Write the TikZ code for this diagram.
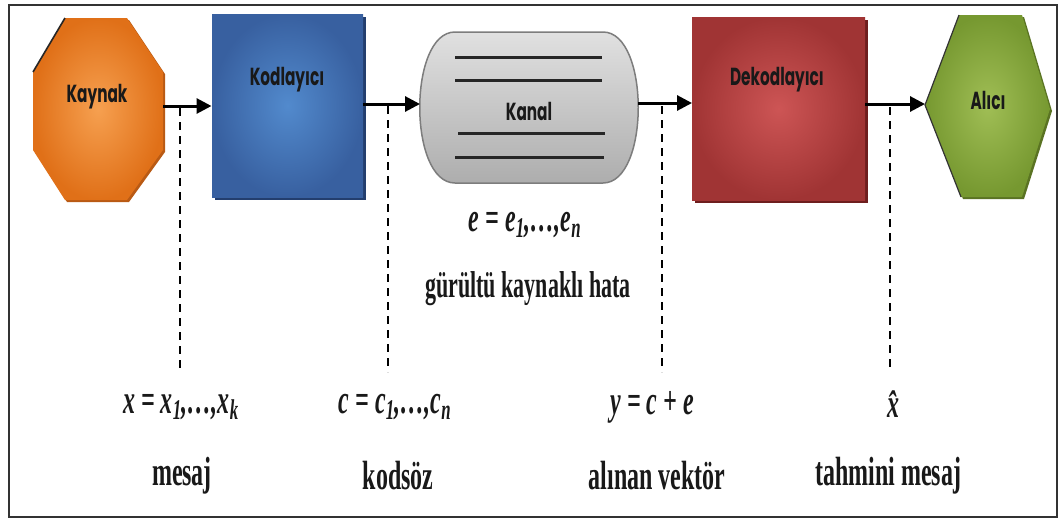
\documentclass[tikz,border=0pt]{standalone}
\usepackage{fontspec}
\usepackage{graphicx}
\setmainfont{Liberation Serif}
\newfontfamily\blockfont{Poppins}
\usetikzlibrary{arrows.meta,calc}

\definecolor{srcOut}{RGB}{224,112,24}
\definecolor{srcIn}{RGB}{246,160,80}
\definecolor{srcShade}{RGB}{185,90,20}
\definecolor{encOut}{RGB}{56,96,160}
\definecolor{encIn}{RGB}{82,138,205}
\definecolor{encShade}{RGB}{35,62,110}
\definecolor{decOut}{RGB}{160,52,52}
\definecolor{decIn}{RGB}{205,85,85}
\definecolor{decShade}{RGB}{110,30,30}
\definecolor{rcvOut}{RGB}{118,152,48}
\definecolor{rcvIn}{RGB}{160,190,85}
\definecolor{rcvShade}{RGB}{90,115,35}
\definecolor{chanEdge}{RGB}{125,125,125}

% vertically stretched lettering
\newcommand\tallset[1]{\scalebox{1}[1.7]{#1}}
\newcommand\tallblock[1]{\scalebox{0.9}[1.45]{#1}}

\tikzset{
  frame/.style={draw=black!80, line width=1.6pt},
  flow/.style={line width=3pt, -{Triangle[length=15pt,width=15pt]}},
  probe/.style={line width=1.8pt, dash pattern=on 8pt off 6pt},
  hold/.style={inner sep=0pt, outer sep=0pt},
  blocklabel/.style={font=\blockfont\bfseries\fontsize{17}{20}\selectfont, text=black!90, inner sep=0pt},
  wordlabel/.style={font=\bfseries\fontsize{24}{28}\selectfont, text=black!90, inner sep=0pt},
  mathlabel/.style={font=\bfseries\itshape\fontsize{24}{28}\selectfont, text=black!90, inner sep=0pt},
  chanline/.style={line width=3pt, black!85},
}

\begin{document}
\begin{tikzpicture}[x=1pt,y=-1pt]
\useasboundingbox (0,0) rectangle (1061,520);
\fill[white] (0,0) rectangle (1061,520);
\draw[frame] (9,5) rectangle (1057,517);

% ---- Kaynak (octagon)
\node[hold, minimum width=130pt, minimum height=182pt] (src) at (98,109) {};
\fill[srcShade] (67,20) -- (129,20) -- (165,74) -- (165,152) -- (129,202) -- (67,202) -- (35,152) -- (35,74) -- cycle;
\shade[inner color=srcIn, outer color=srcOut] (65,18) -- (127,18) -- (163,72) -- (163,150) -- (127,200) -- (65,200) -- (33,150) -- (33,72) -- cycle;
\draw[line width=1.6pt, black!85] (33,72) -- (65,18);
\node[blocklabel] (srctext) at (97,97) {\tallblock{Kaynak}};

% ---- Kodlayıcı
\node[hold, minimum width=151pt, minimum height=183pt] (enc) at (287,105.5) {};
\fill[encShade] (215,17) rectangle (366,200);
\shade[inner color=encIn, outer color=encOut] (212,14) rectangle (363,197);
\node[blocklabel] (enctext) at (287,80) {\tallblock{Kodlayıcı}};

% ---- Kanal
\node[hold, minimum width=218pt, minimum height=151pt] (chan) at (529,107.5) {};
\shade[top color=black!12, middle color=white, bottom color=black!32, draw=chanEdge, line width=1.5pt]
  (455,32) -- (603,32) .. controls (650,32) and (650,183) .. (603,183)
  -- (455,183) .. controls (408,183) and (408,32) .. (455,32) -- cycle;
\draw[chanline] (455,57) -- (602,57);
\draw[chanline] (455,80) -- (602,80);
\draw[chanline] (458,133) -- (605,133);
\draw[chanline] (455,157) -- (604,157);
\node[blocklabel] (chantext) at (529,111) {\tallblock{Kanal}};

% ---- Dekodlayıcı
\node[hold, minimum width=173pt, minimum height=183pt] (dec) at (778.5,108.5) {};
\fill[decShade] (695,20) rectangle (868,203);
\shade[inner color=decIn, outer color=decOut] (692,17) rectangle (865,200);
\node[blocklabel] (dectext) at (777,80) {\tallblock{Dekodlayıcı}};

% ---- Alıcı (hexagon)
\node[hold, minimum width=125pt, minimum height=182pt] (rcv) at (987.5,106) {};
\fill[rcvShade] (927,107) -- (961,17) -- (1024,17) -- (1052,111) -- (1024,199) -- (963,199) -- cycle;
\shade[inner color=rcvIn, outer color=rcvOut] (925,105) -- (959,15) -- (1022,15) -- (1050,109) -- (1022,197) -- (961,197) -- cycle;
\draw[line width=1.2pt, black!80] (961,197) -- (925,105) -- (959,15);
\node[blocklabel] (rcvtext) at (988,100) {\tallblock{Alıcı}};

% ---- signal flow
\draw[flow] ([yshift=3pt]src.east) -- ([yshift=3pt]src.east -| enc.west);
\draw[flow] ([yshift=1.5pt]enc.east) -- ([yshift=1.5pt]enc.east -| chan.west);
\draw[flow] ([yshift=4.5pt]chan.east) -- ([yshift=4.5pt]chan.east -| dec.west);
\draw[flow] ([yshift=4.5pt]dec.east) -- ([yshift=4.5pt]dec.east -| rcv.west);

% ---- noise description
\node[mathlabel] (noise) at (525,225) {\tallset{e = e\textsubscript{1},\ldots,e\textsubscript{n}}};
\node[wordlabel, font=\bfseries\fontsize{22}{26}\selectfont] (noisetext) at (528,289) {\tallset{gürültü kaynaklı hata}};

% ---- signal labels
\node[mathlabel] (msgsym) at (181,407) {\tallset{x = x\textsubscript{1},\ldots,x\textsubscript{k}}};
\node[wordlabel] (msg) at (182,476) {\tallset{mesaj}};
\node[mathlabel] (cwsym) at (395,407) {\tallset{c = c\textsubscript{1},\ldots,c\textsubscript{n}}};
\node[wordlabel] (cw) at (398,476) {\tallset{kodsöz}};
\node[mathlabel] (rxsym) at (652,407) {\tallset{y = c + e}};
\node[wordlabel] (rx) at (657,476) {\tallset{alınan vektör}};
\node[mathlabel] (estsym) at (893,404) {\tallset{\^x}};
\node[wordlabel] (est) at (888,476) {\tallset{tahmini mesaj}};

% ---- probe lines
\coordinate (p1) at (180,108);  \coordinate (q1) at (180,372);
\coordinate (p2) at (388,106);  \coordinate (q2) at (388,372);
\coordinate (p3) at (662,106);  \coordinate (q3) at (662,372);
\coordinate (p4) at (890,107);  \coordinate (q4) at (890,372);
\draw[probe] (p1) -- (q1);
\draw[probe] (p2) -- (q2);
\draw[probe] (p3) -- (q3);
\draw[probe] (p4) -- (q4);
\end{tikzpicture}
\end{document}
